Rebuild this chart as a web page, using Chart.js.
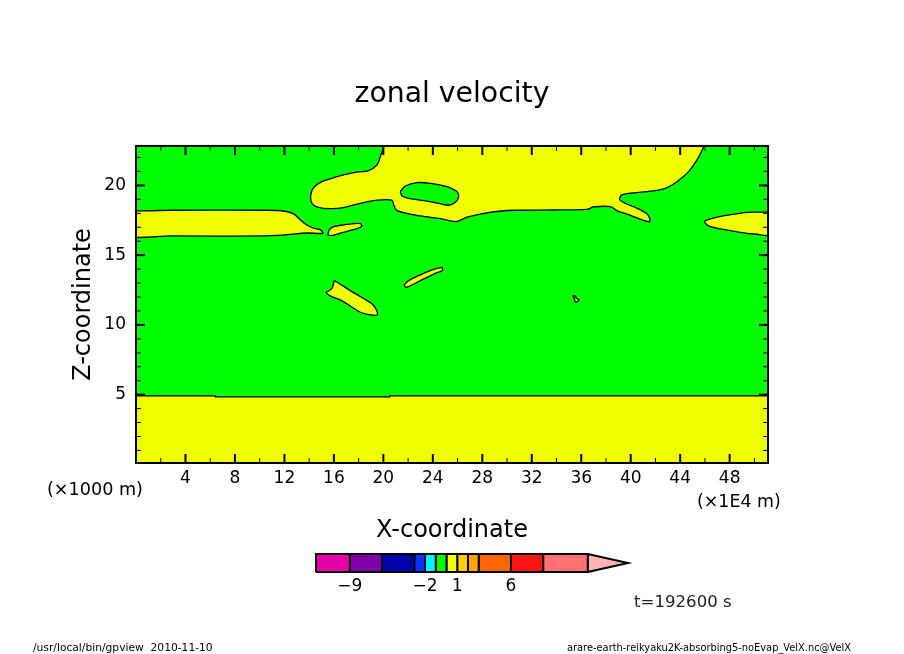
<!DOCTYPE html>
<html>
<head>
<meta charset="utf-8">
<style>
  html, body { margin:0; padding:0; background:#fff; }
  #wrap { position:relative; width:904px; height:654px; overflow:hidden; }
  #wrap canvas { position:absolute; }
</style>
<script src="https://cdn.jsdelivr.net/npm/chart.js@4/dist/chart.umd.js"></script>
</head>
<body>
<div id="wrap">
  <canvas id="plot" width="904" height="654" style="left:0;top:0"></canvas>
  <canvas id="bar" width="360" height="60" style="left:290px;top:545px"></canvas>
</div>
<script>
// axes (x in 1E4 m, z in 1000 m)
const xTicks = [4, 8, 12, 16, 20, 24, 28, 32, 36, 40, 44, 48];
const xMinor = [2, 6, 10, 14, 18, 22, 26, 30, 34, 38, 42, 46, 50];
const zTicks = [5, 10, 15, 20];
const zMinor = [1, 2, 3, 4, 6, 7, 8, 9, 11, 12, 13, 14, 16, 17, 18, 19, 21, 22];

// contour of the zero level
const lowX = [0, 6.42, 6.42, 20.51, 20.51, 51.2, 51.2, 0];
const lowZ = [4.91, 4.91, 4.84, 4.84, 4.91, 4.91, -1, -1];

const tongueX = [-1, 2.92, 10.59, 12.08, 12.75, 13.15, 13.69, 14.37, 14.91, 15.09, 13.83, 12.21, 10.19, 2.92, -1];
const tongueZ = [18.15, 18.22, 18.22, 18.15, 17.96, 17.65, 17.24, 16.93, 16.81, 16.57, 16.59, 16.47, 16.38, 16.38, 16.43];

const upperX = [20.03, 20.03, 19.76, 19.49, 18.81, 17.60, 16.25, 15.04, 14.37, 14.13, 14.23, 14.77, 15.71, 16.79, 18.14, 19.49, 20.70, 20.84, 21.10, 23.00, 24.61, 25.90, 26.76, 28.11, 29.32, 30.67, 33.63, 36.47, 37.00, 38.35, 38.89, 39.97, 41.50, 41.53, 41.32, 40.51, 39.56, 39.10, 39.29, 39.97, 41.32, 42.66, 43.74, 44.68, 45.36, 45.90, 45.95];
const upperZ = [23, 22.78, 22.07, 21.47, 21.07, 20.92, 20.63, 20.27, 19.85, 19.32, 18.72, 18.43, 18.34, 18.41, 18.72, 18.94, 18.94, 18.60, 18.20, 17.81, 17.62, 17.41, 17.72, 18.00, 18.15, 18.22, 18.24, 18.29, 18.46, 18.48, 18.20, 17.86, 17.38, 17.65, 17.96, 18.36, 18.72, 19.01, 19.32, 19.44, 19.56, 19.75, 20.27, 20.99, 21.83, 22.78, 23];

const holeX = [21.37, 21.78, 22.72, 23.80, 25.15, 25.95, 26.09, 25.82, 25.28, 24.47, 23.26, 22.05, 21.51];
const holeZ = [19.56, 19.96, 20.20, 20.15, 19.91, 19.56, 19.20, 18.79, 18.58, 18.72, 18.91, 19.08, 19.25];

const lensX = [51.2, 49.67, 48.32, 46.97, 45.98, 46.30, 47.38, 48.86, 50.21, 51.2];
const lensZ = [18.08, 18.08, 17.93, 17.72, 17.43, 17.10, 16.86, 16.64, 16.50, 16.47];

const chipX = [15.50, 15.63, 15.98, 16.79, 17.60, 18.14, 18.25, 17.87, 17.06, 16.25, 15.71];
const chipZ = [16.45, 16.81, 17.05, 17.17, 17.26, 17.26, 17.07, 16.91, 16.71, 16.50, 16.40];

const wedgeX = [16.04, 16.39, 17.33, 18.41, 19.08, 19.43, 19.49, 18.95, 18.14, 17.33, 16.52, 15.71, 15.39, 15.71, 15.90, 15.98];
const wedgeZ = [13.18, 12.99, 12.46, 11.89, 11.51, 11.08, 10.72, 10.72, 10.91, 11.36, 11.79, 12.08, 12.32, 12.51, 12.70, 13.03];

const sliverX = [24.80, 24.74, 24.20, 23.40, 22.59, 21.91, 21.70, 21.91, 22.45, 23.26, 24.07];
const sliverZ = [14.13, 13.89, 13.70, 13.35, 12.99, 12.70, 12.80, 13.08, 13.37, 13.70, 13.99];

const speckX = [35.31, 35.52, 35.60, 35.82, 35.71, 35.49, 35.44];
const speckZ = [12.10, 12.08, 11.91, 11.79, 11.67, 11.70, 11.91];

// colour bar
const barEdges = [-12.15, -9, -6, -3, -2, -1, 0, 1, 2, 3, 6, 9, 13.15];
const barTip = 16.9;
const barTicks = [-9, -2, 1, 6];
const barColors = ['#e600aa', '#7d00aa', '#0000aa', '#0a32ff', '#00f5ff', '#00ff00', '#f0ff00', '#ffd000', '#ffa500', '#ff6600', '#ff1414', '#ff7070'];
const tipColor = '#ffb4b4';

const GREEN = '#00ff00';
const YELLOW = '#f0ff00';
const FONT = "'DejaVu Sans', sans-serif";

// free text around the plot
const notes = [
  { text: '(×1000 m)', x: 47, y: 490, size: 17.6 },
  { text: '(×1E4 m)', x: 697, y: 502, size: 17.4 },
  { text: 't=192600 s', x: 634, y: 603, size: 16.6, color: '#222' },
  { text: '/usr/local/bin/gpview  2010-11-10', x: 33, y: 648, size: 10.7 },
  { text: 'arare-earth-reikyaku2K-absorbing5-noEvap_VelX.nc@VelX', x: 567, y: 648, size: 9.85 },
];

function toPoints(xs, zs) {
  const pts = xs.map((x, i) => ({ x, y: zs[i] }));
  pts.push(pts[0]);
  return pts;
}

function contour(xs, zs, color, tension = 0.3) {
  return {
    data: toPoints(xs, zs), showLine: true, fill: 'shape', tension,
    borderColor: '#000', borderWidth: 1.3, backgroundColor: color, pointRadius: 0,
  };
}

const plotDecor = {
  id: 'plotDecor',
  beforeDatasetsDraw(chart) {
    const { ctx, chartArea: a } = chart;
    ctx.save();
    ctx.fillStyle = GREEN;
    ctx.fillRect(a.left, a.top, a.right - a.left, a.bottom - a.top);
    ctx.restore();
  },
  afterDatasetsDraw(chart) {
    const { ctx, chartArea: a, scales } = chart;
    ctx.save();
    ctx.strokeStyle = '#000';
    const tick = (x1, y1, x2, y2, w) => {
      ctx.lineWidth = w;
      ctx.beginPath(); ctx.moveTo(x1, y1); ctx.lineTo(x2, y2); ctx.stroke();
    };
    const xMarks = (vals, len, w) => vals.forEach(v => {
      const p = scales.x.getPixelForValue(v);
      tick(p, a.bottom, p, a.bottom - len, w);
      tick(p, a.top, p, a.top + len, w);
    });
    const zMarks = (vals, len, w) => vals.forEach(v => {
      const p = scales.y.getPixelForValue(v);
      tick(a.left, p, a.left + len, p, w);
      tick(a.right, p, a.right - len, p, w);
    });
    xMarks(xTicks, 9, 2); xMarks(xMinor, 5, 1);
    zMarks(zTicks, 9, 2); zMarks(zMinor, 5, 1);
    ctx.lineWidth = 2;
    ctx.strokeRect(a.left, a.top, a.right - a.left, a.bottom - a.top);
    ctx.restore();
  },
  afterDraw(chart) {
    const { ctx } = chart;
    ctx.save();
    ctx.textBaseline = 'middle';
    ctx.textAlign = 'left';
    notes.forEach(n => {
      ctx.font = `${n.size}px ${FONT}`;
      ctx.fillStyle = n.color || '#000';
      ctx.fillText(n.text, n.x, n.y);
    });
    ctx.restore();
  },
};

new Chart(document.getElementById('plot'), {
  type: 'scatter',
  plugins: [plotDecor],
  data: {
    datasets: [
      contour(holeX, holeZ, GREEN), // first so it lands on top of the upper region
      contour(upperX, upperZ, YELLOW),
      contour(lowX, lowZ, YELLOW, 0),
      contour(tongueX, tongueZ, YELLOW),
      contour(lensX, lensZ, YELLOW),
      contour(chipX, chipZ, YELLOW),
      contour(wedgeX, wedgeZ, YELLOW),
      contour(sliverX, sliverZ, YELLOW),
      contour(speckX, speckZ, YELLOW),
    ],
  },
  options: {
    responsive: false, animation: false, devicePixelRatio: 1,
    plugins: {
      legend: { display: false },
      tooltip: { enabled: false },
      title: {
        display: true, text: 'zonal velocity', color: '#000',
        font: { family: FONT, size: 28.3, weight: 'normal' },
        padding: { top: 78, bottom: 34 },
      },
    },
    scales: {
      x: {
        type: 'linear', min: 0, max: 51.1,
        grid: { display: false, drawTicks: false },
        border: { display: false },
        afterBuildTicks: s => { s.ticks = xTicks.map(value => ({ value })); },
        afterFit: s => { s.height = 191; },
        ticks: { color: '#000', padding: 5, maxRotation: 0, autoSkip: false, font: { family: FONT, size: 17 } },
        title: {
          display: true, text: 'X-coordinate', color: '#000',
          font: { family: FONT, size: 24 }, padding: { top: 0, bottom: 109 },
        },
      },
      y: {
        type: 'linear', min: 0.1, max: 22.83,
        grid: { display: false, drawTicks: false },
        border: { display: false },
        afterBuildTicks: s => { s.ticks = zTicks.map(value => ({ value })); },
        afterFit: s => { s.width = 136; },
        ticks: { color: '#000', padding: 10, autoSkip: false, font: { family: FONT, size: 17 } },
        title: {
          display: true, text: 'Z-coordinate', color: '#000',
          font: { family: FONT, size: 24 }, padding: { top: 69, bottom: 0 },
        },
      },
      // empty right axis: keeps the plot centred on the page, so the title is too
      yRight: {
        type: 'linear', position: 'right',
        grid: { display: false, drawTicks: false },
        border: { display: false },
        ticks: { display: false },
        afterFit: s => { s.width = 136; },
      },
    },
  },
});

// colour bar: one closed box per level interval, plus the pointed end
const barSets = barColors.map((c, i) => ({
  data: toPoints([barEdges[i], barEdges[i + 1], barEdges[i + 1], barEdges[i]], [0, 0, 1, 1]),
  showLine: true, fill: 'shape', tension: 0, clip: false,
  borderColor: '#000', borderWidth: 2, backgroundColor: c, pointRadius: 0,
}));
const lastEdge = barEdges[barEdges.length - 1];
barSets.push({
  data: toPoints([lastEdge, barTip, lastEdge], [0, 0.5, 1]),
  showLine: true, fill: 'shape', tension: 0, clip: false,
  borderColor: '#000', borderWidth: 2, backgroundColor: tipColor, pointRadius: 0,
});

new Chart(document.getElementById('bar'), {
  type: 'scatter',
  data: { datasets: barSets },
  options: {
    responsive: false, animation: false, devicePixelRatio: 1,
    layout: { padding: { left: 26, right: 22, top: 9 } },
    plugins: { legend: { display: false }, tooltip: { enabled: false } },
    scales: {
      x: {
        type: 'linear', min: barEdges[0], max: barTip,
        grid: { display: false, drawTicks: false },
        border: { display: false },
        afterBuildTicks: s => { s.ticks = barTicks.map(value => ({ value })); },
        afterFit: s => { s.height = 33; },
        ticks: {
          color: '#000', padding: 4, maxRotation: 0, autoSkip: false,
          font: { family: FONT, size: 17 },
          callback: v => String(v).replace('-', '−'),
        },
      },
      y: { type: 'linear', min: 0, max: 1, display: false },
    },
  },
});
</script>
</body>
</html>
